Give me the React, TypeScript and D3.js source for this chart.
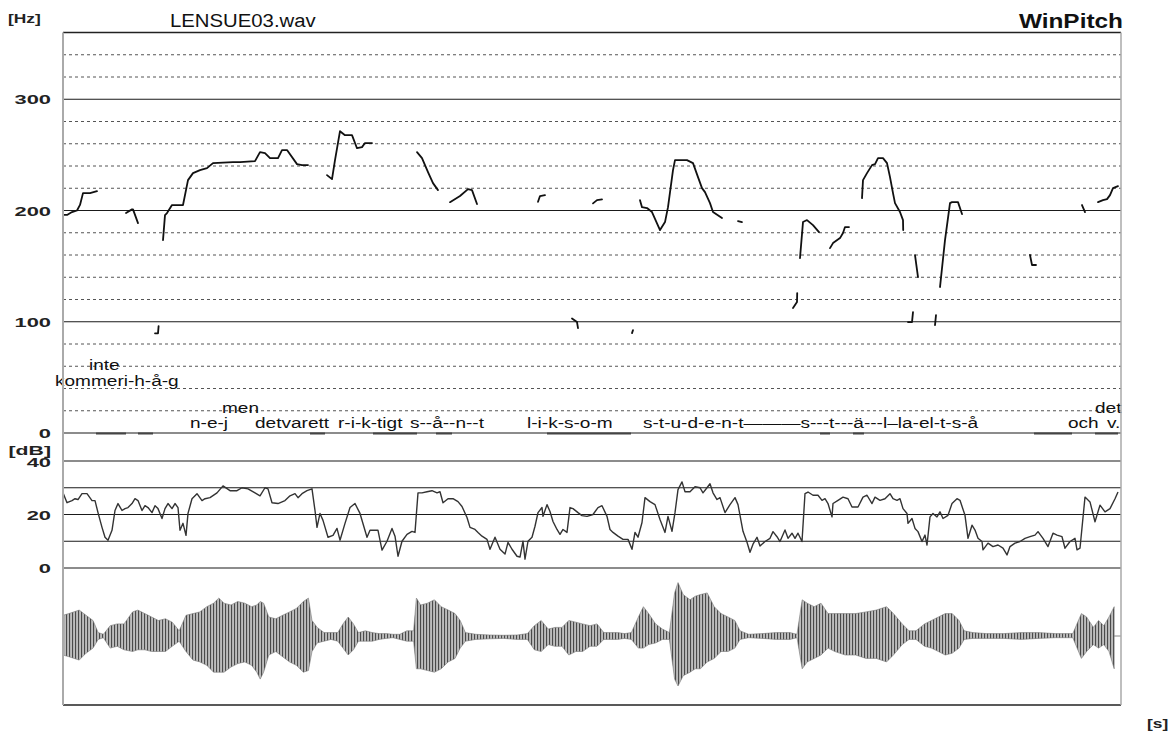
import React from 'react';
import * as d3 from 'd3';

// ---- time axis (seconds) ----
const timeDomain = [0, 5.29];

// ---- F0 contour segments [time s, Hz] ----
const pitchSegments: [number, number][][] = [
  [[0, 196], [0.02, 196], [0.045, 198.6], [0.07, 200], [0.085, 205], [0.1, 215.6], [0.135, 215.6], [0.17, 217.4]],
  [[0.315, 197.7], [0.345, 201], [0.35, 201], [0.375, 188.7]],
  [[0.46, 89.6], [0.475, 89.6], [0.478, 96]],
  [[0.5, 173.4], [0.51, 195.9], [0.52, 197.7], [0.545, 204.9], [0.6, 204.9], [0.625, 227.3], [0.65, 233.6], [0.685, 236.3], [0.72, 238.1], [0.75, 242.6], [0.85, 243.5], [0.885, 243.5], [0.96, 244.4], [0.985, 252.5], [1.01, 251.6], [1.035, 247.1], [1.075, 247.1], [1.095, 254.3], [1.12, 254.3], [1.17, 241.7], [1.195, 240.8], [1.225, 240.8]],
  [[1.32, 231.8], [1.345, 228.2], [1.36, 245.3], [1.385, 271.3], [1.41, 267.7], [1.445, 267.7], [1.47, 256], [1.495, 257], [1.51, 260.6], [1.545, 260.6]],
  [[1.77, 252.5], [1.795, 247.1], [1.825, 234.5], [1.85, 224.6], [1.875, 218.3]],
  [[1.935, 207.5], [1.985, 213], [2.025, 219.2], [2.045, 218.3], [2.07, 205.8]],
  [[2.375, 207.8], [2.385, 213], [2.41, 213.8]],
  [[2.545, 103], [2.57, 99.7], [2.575, 94.3]],
  [[2.65, 206.4], [2.67, 209.3], [2.695, 210]],
  [[2.845, 89.8], [2.85, 92.5]],
  [[2.885, 209.3], [2.895, 203], [2.92, 202.2], [2.945, 198.6], [2.985, 182.4], [3.01, 189.6], [3.025, 203], [3.05, 236.3], [3.06, 245.3], [3.12, 245.3], [3.15, 242.6], [3.175, 230], [3.195, 220.1], [3.21, 216.5], [3.235, 206.6], [3.25, 198.6], [3.295, 193.2]],
  [[3.375, 190.5], [3.395, 189.6]],
  [[3.65, 112.3], [3.67, 117.7], [3.671, 125.8]],
  [[3.685, 157.2], [3.7, 189.6], [3.72, 191.4], [3.75, 186.9], [3.78, 180.6]],
  [[3.835, 166.2], [3.85, 170.7], [3.885, 175.2], [3.9, 179.7], [3.91, 185.1], [3.93, 185.1]],
  [[3.995, 211.1], [4.0, 227.3], [4.02, 233.6], [4.045, 240.8], [4.06, 241.7], [4.075, 247.1], [4.1, 247.1], [4.12, 242.6], [4.135, 230], [4.15, 215.6], [4.16, 206.6], [4.185, 198.6], [4.2, 191.4], [4.201, 182.4]],
  [[4.225, 99.7], [4.245, 99.7], [4.25, 108.7]],
  [[4.26, 159.9], [4.275, 140.2]],
  [[4.36, 97], [4.365, 106]],
  [[4.385, 131.2], [4.41, 173.4], [4.435, 206.6], [4.445, 207.5], [4.475, 207.5], [4.495, 196.8]],
  [[4.835, 160], [4.845, 151], [4.865, 151]],
  [[5.095, 204.9], [5.11, 198.6]],
  [[5.175, 207.5], [5.2, 209.3], [5.22, 210.2], [5.235, 213.8], [5.25, 220.1], [5.275, 221.9]],
];

// ---- intensity curve [time s, dB] ----
const intensity: [number, number][] = [
  [0, 28.1], [0.02, 24.4], [0.045, 25.2], [0.06, 25.9], [0.075, 25.6], [0.095, 27.8], [0.12, 27.8], [0.145, 25.2], [0.16, 25.2], [0.175, 20.7], [0.195, 15.2], [0.21, 11.5], [0.225, 10.4], [0.245, 14.1], [0.26, 21.5], [0.275, 24.1], [0.295, 21.5], [0.31, 22.2], [0.325, 22.6], [0.345, 24.1], [0.36, 25.9], [0.375, 25.2], [0.395, 21.5], [0.41, 23.3], [0.425, 22.6], [0.445, 20.7], [0.46, 23.3], [0.475, 22.2], [0.495, 18.5], [0.51, 22.2], [0.525, 24.1], [0.545, 22.2], [0.56, 24.1], [0.575, 22.6], [0.585, 14.1], [0.6, 16.7], [0.615, 12.2], [0.625, 20.4], [0.645, 25.9], [0.67, 27.8], [0.695, 25.2], [0.71, 25.9], [0.735, 26.3], [0.77, 28.1], [0.8, 30.7], [0.835, 28.9], [0.87, 28.9], [0.895, 30], [0.925, 29.6], [0.96, 28.1], [0.985, 27], [1.01, 30], [1.025, 29.6], [1.045, 24.4], [1.075, 24.1], [1.11, 25.2], [1.135, 27], [1.16, 27.8], [1.175, 26.3], [1.195, 27.8], [1.22, 28.9], [1.245, 29.6], [1.26, 21.5], [1.27, 15.2], [1.285, 20.4], [1.3, 17.8], [1.325, 11.5], [1.35, 12.2], [1.37, 14.8], [1.385, 10.4], [1.41, 16.7], [1.435, 22.6], [1.46, 24.1], [1.485, 20.4], [1.52, 11.5], [1.535, 14.1], [1.56, 14.1], [1.575, 14.1], [1.595, 6.7],
  [1.62, 10], [1.645, 14.8], [1.66, 11.9], [1.675, 4.4], [1.695, 10], [1.72, 12.6], [1.745, 13.7], [1.76, 13.3], [1.775, 28.1], [1.795, 28.1], [1.82, 28.5], [1.845, 28.9], [1.87, 28.1], [1.885, 28.5], [1.9, 24.4], [1.925, 25.9], [1.95, 25.9], [1.975, 24.8], [1.995, 23], [2.02, 18.9], [2.035, 15.2], [2.06, 14.4], [2.075, 13.3], [2.095, 11.9], [2.12, 10.7], [2.135, 7], [2.16, 11.5], [2.185, 7], [2.21, 5.2], [2.225, 9.6], [2.245, 7], [2.27, 4.4], [2.285, 4.1], [2.3, 10], [2.31, 3.3], [2.325, 10], [2.345, 11.5], [2.36, 15.6], [2.375, 20.7], [2.395, 22.6], [2.4, 19.3], [2.42, 23.7], [2.435, 21.1], [2.45, 17.4], [2.47, 14.4], [2.485, 12.6], [2.5, 14.4], [2.52, 13.3], [2.535, 22.6], [2.55, 22.2], [2.575, 20.7], [2.595, 19.6], [2.62, 19.3], [2.65, 20], [2.675, 22.6], [2.695, 23.3], [2.72, 19.3], [2.735, 14.4], [2.75, 13.3], [2.775, 11.9], [2.8, 10.7], [2.825, 10.7], [2.845, 7], [2.86, 13.3], [2.875, 11.5], [2.895, 17], [2.91, 26.3], [2.935, 24.8], [2.96, 23.7], [2.985, 18.1], [3.01, 13.3], [3.025, 19.3], [3.045, 13.7], [3.06, 20.7], [3.075, 29.3], [3.095, 32.2], [3.11, 28.5], [3.135, 28.5], [3.16, 30.4], [3.185, 30], [3.2, 28.1], [3.22, 30], [3.235, 31.5], [3.25, 28.1], [3.27, 25.6], [3.285, 26.3], [3.31, 20.7], [3.335, 23.7], [3.36, 26.3], [3.375, 23.7], [3.4, 13.7], [3.42, 9.6], [3.435, 5.9], [3.45, 8.9], [3.47, 11.5], [3.485, 8.2],
  [3.51, 9.9], [3.535, 11.1], [3.55, 13.6], [3.57, 11.7], [3.585, 9.9], [3.61, 14.2], [3.625, 11.1], [3.645, 13], [3.66, 11.1], [3.675, 13], [3.695, 9.9], [3.71, 27.8], [3.725, 28.4], [3.75, 27.2], [3.775, 27.2], [3.795, 25.3], [3.81, 25.9], [3.825, 24.1], [3.845, 19.1], [3.85, 24.1], [3.875, 25.3], [3.9, 26.5], [3.925, 25.9], [3.945, 22.8], [3.975, 22.8], [4.0, 26.5], [4.02, 27.2], [4.045, 24.1], [4.06, 26.5], [4.085, 25.3], [4.11, 25.9], [4.135, 27.8], [4.15, 25.9], [4.17, 25.3], [4.185, 25.9], [4.2, 22.2], [4.22, 20.4], [4.225, 16.7], [4.245, 18.5], [4.26, 14.8], [4.275, 13.6], [4.295, 9.9], [4.31, 12.3], [4.32, 8.6], [4.335, 19.1], [4.35, 20.4], [4.37, 19.1], [4.385, 21], [4.4, 18.5], [4.425, 19.7], [4.445, 24.1], [4.47, 25.9], [4.485, 25.3], [4.51, 19.7], [4.525, 11.1], [4.545, 16], [4.56, 14.2], [4.575, 11.1], [4.595, 9.9], [4.6, 6.8], [4.625, 9.3], [4.65, 8], [4.675, 8.6], [4.7, 7.4], [4.72, 4.9], [4.735, 8], [4.76, 9.3], [4.785, 9.9], [4.81, 11.1], [4.835, 11.7], [4.86, 12.3], [4.875, 13.6], [4.9, 11.1], [4.925, 8], [4.95, 13], [4.97, 12.3], [4.995, 11.7], [5.01, 7.4], [5.035, 9.9], [5.06, 11.1], [5.07, 6.8], [5.085, 7.4], [5.11, 26.5], [5.135, 24.7], [5.16, 17.3], [5.185, 23.5], [5.21, 21], [5.235, 22.2], [5.26, 25.9], [5.275, 28.4],
];

// ---- waveform envelope (time s, positive peak, negative peak; arbitrary units) ----
const waveT = [0, 0.029, 0.081, 0.115, 0.15, 0.176, 0.202, 0.236, 0.271, 0.305, 0.348, 0.374, 0.409, 0.443, 0.477, 0.512, 0.546, 0.581, 0.615, 0.65, 0.684, 0.719, 0.753, 0.779, 0.805, 0.84, 0.874, 0.909, 0.943, 0.969, 0.986, 1.003, 1.029, 1.064, 1.098, 1.133, 1.167, 1.202, 1.227, 1.245, 1.271, 1.305, 1.34, 1.374, 1.4, 1.426, 1.452, 1.477, 1.512, 1.546, 1.581, 1.615, 1.65, 1.684, 1.719, 1.753, 1.767, 1.788, 1.822, 1.857, 1.891, 1.926, 1.96, 1.986, 2.012, 2.064, 2.133, 2.202, 2.271, 2.322, 2.357, 2.391, 2.426, 2.46, 2.495, 2.529, 2.564, 2.598, 2.635, 2.67, 2.704, 2.739, 2.773, 2.808, 2.842, 2.877, 2.902, 2.928, 2.963, 2.997, 3.032, 3.058, 3.075, 3.101, 3.135, 3.161, 3.187, 3.221, 3.256, 3.29, 3.325, 3.359, 3.385, 3.428, 3.497, 3.566, 3.635, 3.67, 3.696, 3.721, 3.756, 3.79, 3.825, 3.859, 3.911, 3.963, 4.015, 4.066, 4.118, 4.152, 4.196, 4.23, 4.265, 4.308, 4.342, 4.377, 4.411, 4.446, 4.48, 4.506, 4.549, 4.618, 4.704, 4.79, 4.877, 4.963, 5.049, 5.092, 5.118, 5.152, 5.178, 5.204, 5.23, 5.256];
const waveUp = [20.7, 22.4, 25.9, 20.7, 15.5, 3.4, 1.7, 10.3, 12.1, 12.1, 24.1, 25.9, 22.4, 19, 15.5, 17.2, 13.8, 5.2, 20.7, 22.4, 24.1, 29.3, 32.8, 37.9, 32.8, 31, 34.5, 32.8, 29.3, 31, 34.5, 32.8, 19, 17.2, 20.7, 24.1, 27.6, 34.5, 37.9, 15.5, 8.6, 3.4, 3.4, 3.4, 12.1, 19, 12.1, 3.4, 5.2, 3.4, 2.4, 2.4, 1.7, 1.7, 5.2, 5.2, 37.9, 31, 32.8, 36.2, 29.3, 25.9, 22.4, 15.5, 3.4, 1.7, 1, 0.7, 1, 2.4, 10.3, 15.5, 6.9, 8.6, 8.6, 15.5, 13.8, 12.1, 10.3, 12.1, 3.4, 3.4, 3.4, 2.4, 3.4, 19, 29.3, 22.4, 12.1, 6.9, 3.4, 43.1, 53.4, 41.4, 36.2, 39.7, 41.4, 43.1, 29.3, 22.4, 19, 15.5, 5.2, 1.7, 2.4, 3.4, 3.4, 1.7, 36.2, 32.8, 29.3, 32.8, 22.4, 22.4, 22.4, 22.4, 24.1, 25.9, 29.3, 22.4, 12.1, 5.2, 5.2, 12.1, 15.5, 19, 22.4, 22.4, 15.5, 5.2, 3.4, 2.4, 2.4, 3.4, 3.4, 2.4, 2.4, 22.4, 19, 8.6, 15.5, 10.3, 19, 29.3];
const waveDown = [19, 20.7, 24.1, 17.2, 12.1, 3.4, 1.7, 12.1, 10.3, 13.8, 15.5, 13.8, 13.8, 15.5, 15.5, 15.5, 10.3, 5.2, 15.5, 24.1, 25.9, 29.3, 36.2, 36.2, 36.2, 31, 27.6, 25.9, 29.3, 36.2, 43.1, 36.2, 19, 15.5, 20.7, 25.9, 29.3, 36.2, 34.5, 15.5, 6.9, 5.2, 3.4, 5.2, 12.1, 19, 13.8, 5.2, 5.2, 5.2, 3.4, 2.4, 1.7, 3.4, 5.2, 5.2, 32.8, 32.8, 34.5, 36.2, 32.8, 25.9, 22.4, 12.1, 5.2, 3.4, 2.8, 2.4, 3.4, 3.4, 13.8, 15.5, 8.6, 10.3, 10.3, 19, 15.5, 15.5, 10.3, 10.3, 3.4, 3.4, 3.4, 2.4, 3.4, 12.1, 12.1, 8.6, 6.9, 3.4, 3.4, 43.1, 50, 39.7, 36.2, 32.8, 32.8, 25.9, 22.4, 15.5, 15.5, 12.1, 3.4, 1.7, 2.4, 3.4, 3.4, 1.7, 32.8, 25.9, 22.4, 19, 12.1, 15.5, 19, 19, 22.4, 22.4, 25.9, 19, 8.6, 3.4, 3.4, 10.3, 12.1, 15.5, 19, 17.2, 12.1, 3.4, 2.4, 2.4, 2.4, 3.4, 2.4, 1.7, 1.7, 22.4, 15.5, 8.6, 12.1, 8.6, 15.5, 32.8];

// ---- segmentation marks on the 0 Hz line [start s, end s] ----
const segmentMarks: [number, number][] = [
  [0.165, 0.315], [0.375, 0.45], [1.235, 1.31], [1.55, 1.77], [1.865, 1.945], [2.42, 2.84], [3.785, 3.835], [3.95, 4.005], [4.855, 5.045], [5.16, 5.275],
];

// ---- transcription labels ----
const wordTexts = ['inte', 'kommeri-h-å-g', 'men', 'n-e-j', 'detvarett', 'r-i-k-tigt', 's--å--n--t', 'l-i-k-s-o-m', 's-t-u-d-e-n-t———s---t---ä---l–la-el-t-s-å', 'och', 'det', 'v.'];
const wordTimes = [0.13, -0.04, 0.795, 0.635, 0.96, 1.375, 1.735, 2.32, 2.9, 5.025, 5.16, 5.22];
const wordRows = [0, 1, 2, 3, 3, 3, 3, 3, 3, 3, 2, 3];

// ---- axes ----
const pitchTickLabels = [0, 100, 200, 300];
const dbTickLabels = [0, 20, 40];
const dbGrid = [0, 10, 20, 30, 40];

const FONT = '"Liberation Sans", Arial, Helvetica, sans-serif';

export default function App() {
  const x = d3.scaleLinear().domain(timeDomain).range([63, 1121]);
  const yP = d3.scaleLinear().domain([0, 360]).range([433, 32.5]);
  const yD = d3.scaleLinear().domain([0, 40]).range([568, 461]);
  const yW = d3.scaleLinear().domain([-66, 66]).range([702, 570]);

  const pLine = d3.line<[number, number]>().x(d => x(d[0])).y(d => yP(d[1]));
  const dLine = d3.line<[number, number]>().x(d => x(d[0])).y(d => yD(d[1]));
  const wIdx = waveT.map((_, i) => i);
  const wArea = d3
    .area<number>()
    .x(i => x(waveT[i]))
    .y0(i => yW(-waveDown[i]))
    .y1(i => yW(waveUp[i]))
    .curve(d3.curveLinear);

  const gridTicks = yP.ticks(18);
  const rowY = [370, 386, 413, 428];
  const [x0, x1] = x.range();

  return (
    <svg width={1174} height={731} style={{ position: 'absolute', left: 0, top: 0, background: '#fff' }} fontFamily={FONT}>
      <defs>
        <pattern id="wv" width="3" height="10" patternUnits="userSpaceOnUse">
          <rect width="3" height="10" fill="#bdbdbd" />
          <rect width="1.1" height="10" fill="#4a4a4a" />
        </pattern>
      </defs>
      <rect width={1174} height={731} fill="#fff" />

      {/* title texts */}
      <text transform="translate(170,27) scale(1.13,1)" fontSize={18} fill="#111">LENSUE03.wav</text>
      <text transform="translate(1123,28) scale(1.22,1)" fontSize={20} fontWeight="bold" textAnchor="end" fill="#111">WinPitch</text>
      <text transform="translate(8,23) scale(1.45,1)" fontSize={12} fontWeight="bold" fill="#222">[Hz]</text>
      <text transform="translate(1147,728) scale(1.45,1)" fontSize={12} fontWeight="bold" fill="#222">[s]</text>

      {/* pitch grid */}
      {gridTicks.map(v => {
        const solid = v % 100 === 0 || v === 360;
        return (
          <line key={'pg' + v} x1={x0} x2={x1} y1={yP(v)} y2={yP(v)}
            stroke={solid ? '#1a1a1a' : '#555'} strokeWidth={solid ? 1.2 : 1}
            strokeDasharray={solid ? undefined : '3 3'} />
        );
      })}
      {pitchTickLabels.map(v => (
        <text key={'pl' + v} transform={`translate(51,${yP(v) + 5}) scale(1.75,1)`} fontSize={12.5}
          fontWeight="bold" textAnchor="end" fill="#222">{v}</text>
      ))}

      {/* segmentation marks */}
      {segmentMarks.map((s, i) => (
        <line key={'sm' + i} x1={x(s[0])} x2={x(s[1])} y1={yP(0) + 0.5} y2={yP(0) + 0.5} stroke="#444" strokeWidth={2} />
      ))}

      {/* F0 contour */}
      {pitchSegments.map((seg, i) => (
        <path key={'ps' + i} d={pLine(seg) || ''} fill="none" stroke="#111" strokeWidth={1.8} strokeLinejoin="round" strokeLinecap="round" />
      ))}

      {/* words */}
      {wordTexts.map((w, i) => (
        <text key={'w' + i} transform={`translate(${x(wordTimes[i])},${rowY[wordRows[i]]}) scale(1.27,1)`} fontSize={15} fill="#111">{w}</text>
      ))}

      {/* dB grid */}
      {dbGrid.map(v => (
        <line key={'dg' + v} x1={x0} x2={x1} y1={yD(v)} y2={yD(v)} stroke="#1a1a1a" strokeWidth={1.1} />
      ))}
      <text transform="translate(51,455) scale(1.7,1)" fontSize={12.5} fontWeight="bold" textAnchor="end" fill="#222">[dB]</text>
      {dbTickLabels.map(v => (
        <text key={'dl' + v} transform={`translate(51,${yD(v) + (v === 40 ? 6 : 5)}) scale(1.75,1)`} fontSize={12.5}
          fontWeight="bold" textAnchor="end" fill="#222">{v}</text>
      ))}
      <path d={dLine(intensity) || ''} fill="none" stroke="#333" strokeWidth={1.4} strokeLinejoin="round" />

      {/* waveform */}
      <line x1={x0} x2={x1} y1={yW(0)} y2={yW(0)} stroke="#888" strokeWidth={1} />
      <path d={wArea(wIdx) || ''} fill="url(#wv)" stroke="#777" strokeWidth={0.6} />
      <line x1={x0} x2={x1} y1={705} y2={705} stroke="#222" strokeWidth={1.3} />

      {/* frame */}
      <line x1={x0} x2={x1} y1={yP(360)} y2={yP(360)} stroke="#222" strokeWidth={1.3} />
      <line x1={x0} x2={x0} y1={yP(360)} y2={705} stroke="#aaa" strokeWidth={2} />
      <line x1={x1} x2={x1} y1={yP(360)} y2={705} stroke="#aaa" strokeWidth={1.5} />
    </svg>
  );
}
